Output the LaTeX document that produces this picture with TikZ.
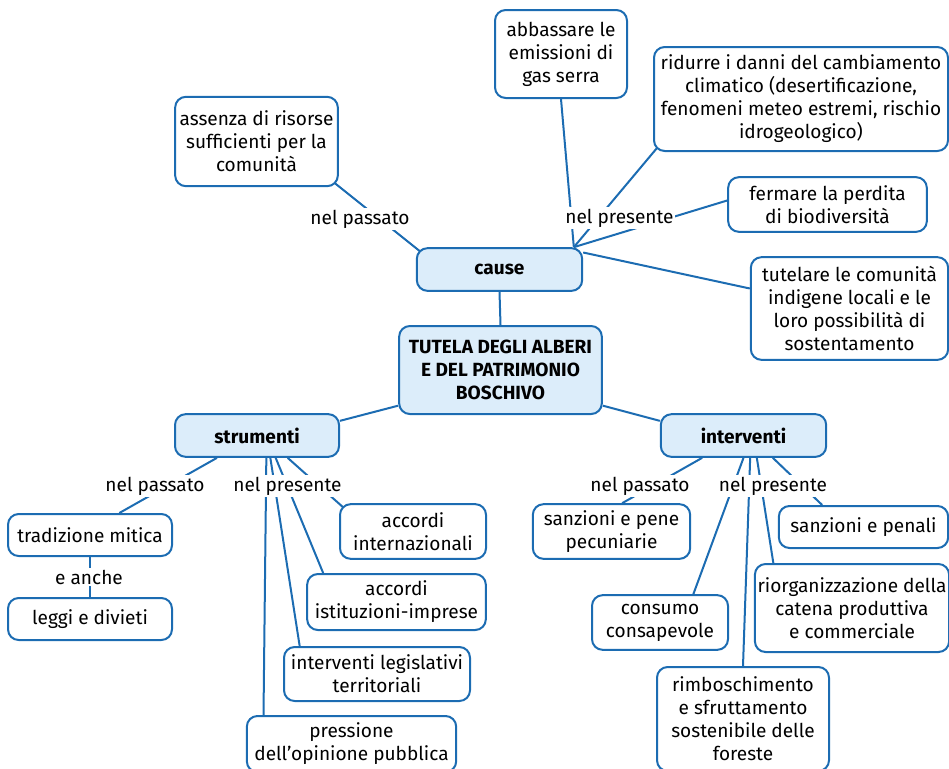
\documentclass[tikz,border=0pt]{standalone}
\usepackage{fontspec}
\setmainfont{Fira Sans}
\usetikzlibrary{backgrounds}
\definecolor{mapblue}{RGB}{28,108,178}
\definecolor{mapfill}{RGB}{220,237,250}

\begin{document}
\begin{tikzpicture}[
x=0.75pt, y=-0.75pt,
box/.style={rectangle, rounded corners=8pt, draw=mapblue, line width=1.5pt, fill=white, align=center, inner sep=2pt, font=\fontsize{14.3}{17.25}\selectfont},
topic/.style={box, fill=mapfill, font=\fontsize{14.3}{17.25}\selectfont\bfseries},
lbl/.style={fill=white, inner sep=1pt, font=\fontsize{14.3}{17.25}\selectfont},
link/.style={draw=mapblue, line width=1.5pt}
]
\useasboundingbox (0,0) rectangle (949,768);
%Nodes
\node[topic, minimum width=152pt, minimum height=66pt] (tutela) at (500.5,370) {TUTELA DEGLI ALBERI\\E DEL PATRIMONIO\\BOSCHIVO};
\node[topic, minimum width=124pt, minimum height=32pt] (cause) at (499.5,269.5) {cause};
\node[topic, minimum width=123pt, minimum height=32pt] (strumenti) at (257,435.5) {strumenti};
\node[topic, minimum width=124pt, minimum height=32pt] (interventi) at (743.5,435.5) {interventi};

\node[box, minimum width=122pt, minimum height=67pt] (assenza) at (256.5,141.5) {assenza di risorse\\sufficienti per la\\comunità};
\node[box, minimum width=99pt, minimum height=66pt] (abbassare) at (561,54) {abbassare le\\emissioni di\\gas serra};
\node[box, minimum width=220.5pt, minimum height=78pt] (ridurre) at (801,99) {ridurre i danni del cambiamento\\climatico (desertificazione,\\fenomeni meteo estremi, rischio\\idrogeologico)};
\node[box, minimum width=149pt, minimum height=41pt] (fermare) at (827.5,204.5) {fermare la perdita\\di biodiversità};
\node[box, minimum width=148pt, minimum height=77pt] (tutelare) at (849.5,308.5) {tutelare le comunità\\indigene locali e le\\loro possibilità di\\sostentamento};

\node[box, minimum width=123pt, minimum height=31.5pt] (tradizione) at (90,535) {tradizione mitica};
\node[box, minimum width=123pt, minimum height=31.5pt] (leggi) at (90,619) {leggi e divieti};
\node[box, minimum width=109.5pt, minimum height=41pt] (internazionali) at (413,531.5) {accordi\\internazionali};
\node[box, minimum width=134pt, minimum height=42pt] (istituzioni) at (396.5,602) {accordi\\istituzioni-imprese};
\node[box, minimum width=139.5pt, minimum height=40.5pt] (legislativi) at (377,674) {interventi legislativi\\territoriali};
\node[box, minimum width=157pt, minimum height=42pt] (pressione) at (351.5,744) {pressione\\dell’opinione pubblica};

\node[box, minimum width=118pt, minimum height=41pt] (pene) at (611.5,531.5) {sanzioni e pene\\pecuniarie};
\node[box, minimum width=127pt, minimum height=31.5pt] (penali) at (863.5,527) {sanzioni e penali};
\node[box, minimum width=102pt, minimum height=41pt] (consumo) at (660,622.5) {consumo\\consapevole};
\node[box, minimum width=144pt, minimum height=66pt] (riorganizzazione) at (852,608) {riorganizzazione della\\catena produttiva\\e commerciale};
\node[box, minimum width=129pt, minimum height=78pt] (rimboschimento) at (743,719) {rimboschimento\\e sfruttamento\\sostenibile delle\\foreste};

%Labels
\node[lbl] (passatoC) at (360,219) {nel passato};
\node[lbl] (presenteC) at (619.5,218) {nel presente};
\node[lbl] (passatoS) at (155,486) {nel passato};
\node[lbl] (presenteS) at (287.5,486) {nel presente};
\node[lbl] (anche) at (89,577) {e anche};
\node[lbl] (passatoI) at (640,486) {nel passato};
\node[lbl] (presenteI) at (773,486) {nel presente};

%Lines
\begin{scope}[on background layer]
\draw[link] (cause.south) -- (tutela.north);
\draw[link] ([yshift=7pt]tutela.south west) -- ([yshift=11pt]strumenti.east);
\draw[link] ([yshift=7pt]tutela.south east) -- ([yshift=11pt]interventi.west);

\draw[link] ([xshift=3pt, yshift=-3pt]cause.north west) -- ([xshift=-3pt, yshift=3pt]assenza.south east);
\draw[link] ([xshift=-7pt]cause.north east) -- (abbassare.south);
\draw[link] ([xshift=-7pt]cause.north east) -- ([xshift=3pt, yshift=3pt]ridurre.south west);
\draw[link] ([xshift=-7pt]cause.north east) -- ([yshift=3pt]fermare.west);
\draw[link] ([yshift=-4pt]cause.north east) -- ([yshift=15pt]tutelare.west);

\draw[link] ([xshift=-30pt]strumenti.south) -- ([xshift=22pt]tradizione.north);
\draw[link] (tradizione) -- (leggi);
\draw[link] ([xshift=7pt]strumenti.south) -- ([xshift=-66pt]pressione.north);
\draw[link] ([xshift=10pt]strumenti.south) -- ([xshift=-58pt]legislativi.north);
\draw[link] ([xshift=14pt]strumenti.south) -- ([xshift=-55pt]istituzioni.north);
\draw[link] ([xshift=23pt]strumenti.south) -- ([xshift=3pt, yshift=-3pt]internazionali.north west);

\draw[link] ([xshift=-31pt]interventi.south) -- ([xshift=8pt]pene.north);
\draw[link] (interventi.south) -- ([xshift=25pt]consumo.north);
\draw[link] ([xshift=5pt]interventi.south) -- (rimboschimento.north);
\draw[link] ([xshift=10pt]interventi.south) -- ([xshift=-59pt]riorganizzazione.north);
\draw[link] ([xshift=22pt]interventi.south) -- ([xshift=-31pt]penali.north);
\end{scope}
\end{tikzpicture}
\end{document}
